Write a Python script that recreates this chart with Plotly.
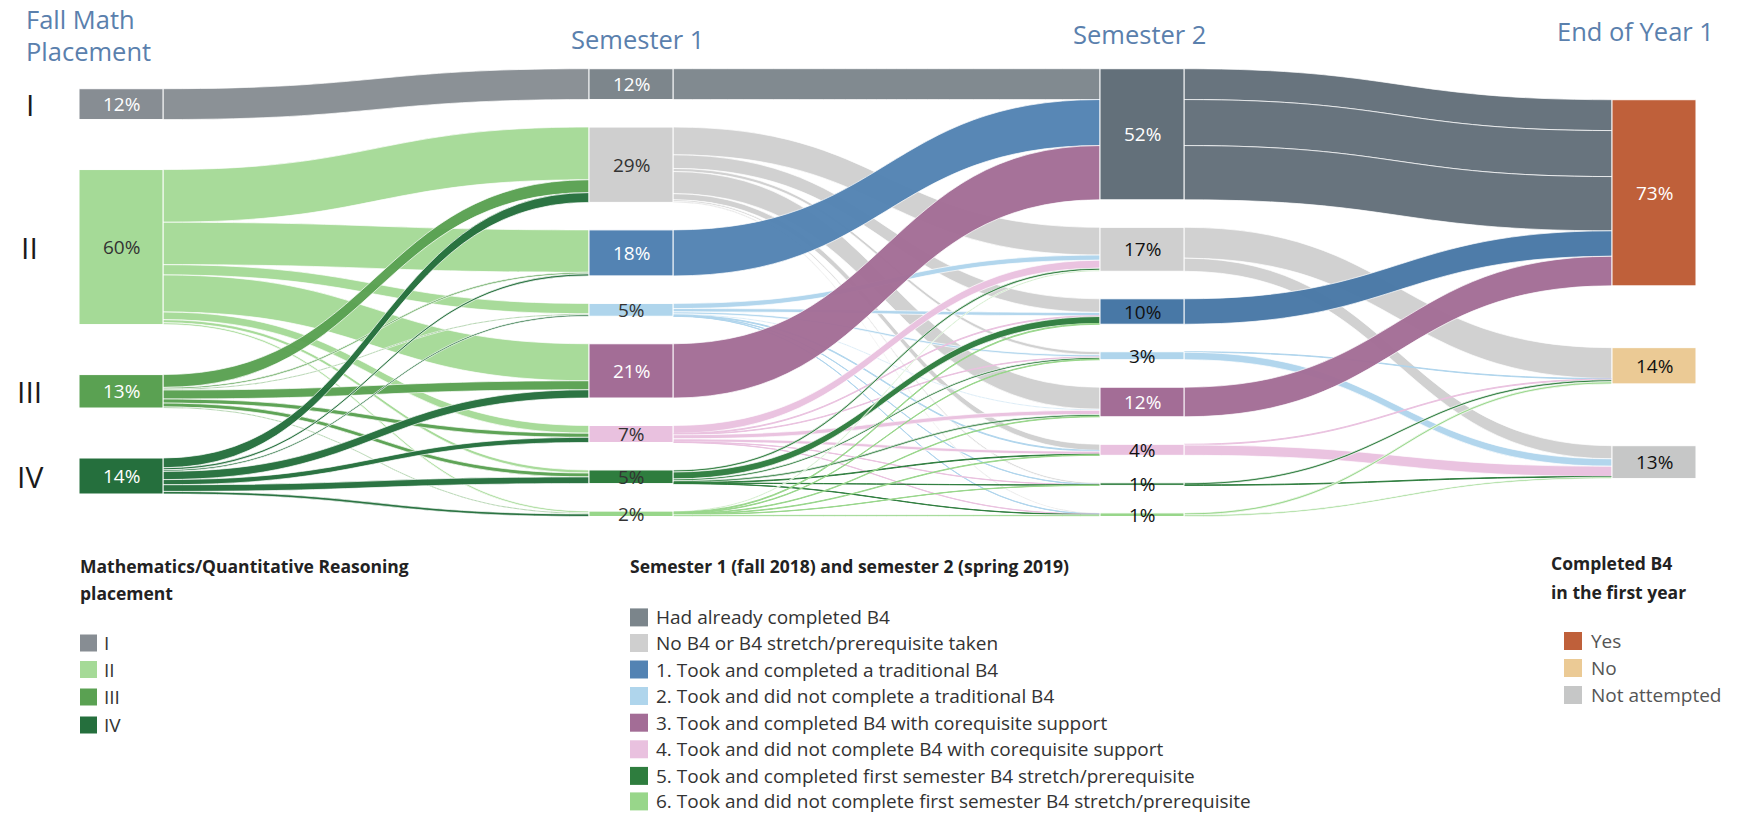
import plotly.graph_objects as go

# ---------------- data ----------------
fall_labels = ["I", "II", "III", "IV"]
fall_pct = [12, 60, 13, 14]

sem_categories = [
    "Had already completed B4",
    "No B4 or B4 stretch/prerequisite taken",
    "1. Took and completed a traditional B4",
    "2. Took and did not complete a traditional B4",
    "3. Took and completed B4 with corequisite support",
    "4. Took and did not complete B4 with corequisite support",
    "5. Took and completed first semester B4 stretch/prerequisite",
    "6. Took and did not complete first semester B4 stretch/prerequisite",
]
sem1_pct = [12, 29, 18, 5, 21, 7, 5, 2]
sem2_pct = [52, 17, 10, 3, 12, 4, 1, 1]

eoy_labels = ["Yes", "No", "Not attempted"]
eoy_pct = [73, 14, 13]

# flows (percent of students)
fall_to_sem1 = [
    [12.0, 0, 0, 0, 0, 0, 0, 0],
    [0, 20.5, 16.5, 4.0, 14.4, 3.0, 1.2, 0.7],
    [0, 5.0, 0.6, 0.4, 3.5, 1.6, 1.5, 0.4],
    [0, 3.8, 0.8, 0.6, 3.2, 2.0, 2.6, 1.0],
]
sem1_to_sem2 = [
    [12.0, 0, 0, 0, 0, 0, 0, 0],
    [0, 10.8, 5.3, 1.2, 8.6, 2.4, 0.6, 0.4],
    [17.9, 0, 0, 0, 0, 0, 0, 0],
    [0, 2.0, 1.3, 0.8, 0.4, 0.3, 0.1, 0.1],
    [21.1, 0, 0, 0, 0, 0, 0, 0],
    [0, 3.1, 0.3, 0.2, 1.6, 1.2, 0.1, 0.1],
    [0, 0.8, 2.7, 0.7, 0.7, 0.2, 0.1, 0.1],
    [0, 0.4, 0.3, 0.2, 0.2, 0.2, 0.1, 0.7],
]
# the "had already completed" students in semester 2, by semester-1 origin
sem2_completed_parts = [12.0, 17.9, 21.1]
sem2_to_eoy = [
    [None, 0, 0],          # filled from sem2_completed_parts
    [0, 12.0, 5.1],
    [9.9, 0, 0],
    [0, 0.2, 2.9],
    [11.5, 0, 0],
    [0, 0.3, 4.0],
    [0, 0.8, 0.2],
    [0, 0.8, 0.6],
]

# ---------------- styles ----------------
fall_colors = ["#878d93", "#a5da97", "#5aa152", "#256f3d"]
sem1_colors = ["#7d868c", "#cfcfcf", "#5383b3", "#afd5ec", "#a36d96", "#e9c1df", "#2e7d3e", "#98d68a"]
sem2_colors = ["#63707a", "#cfcfcf", "#4878a6", "#afd5ec", "#a36d96", "#e9c1df", "#2e7d3e", "#98d68a"]
eoy_colors = ["#bf603a", "#ebca95", "#c6c7c7"]
legend_sem_colors = ["#7b858b", "#cfcfcf", "#5383b3", "#afd5ec", "#a36d96", "#e9c1df", "#2e7d3e", "#98d68a"]

fall_txt = ["white", "#333333", "white", "white"]
sem1_txt = ["white", "#333333", "white", "#333333", "white", "#333333", "#333333", "#333333"]
sem2_txt = ["white", "#111111", "#111111", "#111111", "white", "#111111", "#111111", "#111111"]
eoy_txt = ["white", "#111111", "#111111"]

FIG_W, FIG_H = 1738, 817
SK_TOP, SK_BOT = 68.7, 516.5
DOM_H = SK_BOT - SK_TOP
COL_X = [121, 631, 1142, 1654]
THICK = 84
PAD = 27.5
FALL_TOP, FALL_GAP = 20, 50
EOY_TOP, EOY_GAP = 31, 61.8
FONT = "Open Sans"


def hex_rgba(h, a):
    h = h.lstrip("#")
    return "rgba(%d,%d,%d,%.2f)" % (int(h[0:2], 16), int(h[2:4], 16), int(h[4:6], 16), a)


# ---------------- build nodes / links ----------------
n_f, n_s = len(fall_labels), len(sem_categories)
off_s1 = n_f
off_s2 = n_f + n_s
off_e = n_f + 2 * n_s

src, tgt, val = [], [], []
for i, row in enumerate(fall_to_sem1):
    for j, v in enumerate(row):
        if v:
            src.append(i); tgt.append(off_s1 + j); val.append(v)
for i, row in enumerate(sem1_to_sem2):
    for j, v in enumerate(row):
        if v:
            src.append(off_s1 + i); tgt.append(off_s2 + j); val.append(v)
for i, row in enumerate(sem2_to_eoy):
    for j, v in enumerate(row):
        if v is None:
            for p in sem2_completed_parts:
                src.append(off_s2 + i); tgt.append(off_e + j); val.append(p)
        elif v:
            src.append(off_s2 + i); tgt.append(off_e + j); val.append(v)

node_colors = fall_colors + sem1_colors + sem2_colors + eoy_colors
link_colors = [hex_rgba(node_colors[s], 0.97) for s in src]
link_line_w = [0.6 if v >= 2 else 0 for v in val]

inflow = [0.0] * len(node_colors)
outflow = [0.0] * len(node_colors)
for s, t, v in zip(src, tgt, val):
    outflow[s] += v
    inflow[t] += v
node_val = [max(a, b) for a, b in zip(inflow, outflow)]

cols = [list(range(0, n_f)), list(range(off_s1, off_s1 + n_s)),
        list(range(off_s2, off_s2 + n_s)), list(range(off_e, off_e + 3))]
ky = min((DOM_H - (len(c) - 1) * PAD) / sum(node_val[k] for k in c) for c in cols)

centers = [0.0] * len(node_colors)
col_setup = [(FALL_TOP, FALL_GAP), (0, PAD), (0, PAD), (EOY_TOP, EOY_GAP)]
for c, (top, gap) in zip(cols, col_setup):
    y = top
    for k in c:
        h = node_val[k] * ky
        centers[k] = y + h / 2
        y += h + gap

node_x = []
for ci, c in enumerate(cols):
    node_x += [COL_X[ci] / FIG_W] * len(c)
node_y = [centers[k] / DOM_H for k in range(len(node_colors))]

fig = go.Figure(go.Sankey(
    arrangement="fixed",
    domain=dict(x=[0, 1], y=[1 - SK_BOT / FIG_H, 1 - SK_TOP / FIG_H]),
    node=dict(
        label=[""] * len(node_colors),
        color=node_colors,
        x=node_x, y=node_y,
        pad=PAD, thickness=THICK,
        line=dict(color="white", width=1),
        hoverinfo="none",
    ),
    link=dict(
        source=src, target=tgt, value=val,
        color=link_colors,
        line=dict(color="rgba(255,255,255,0.7)", width=link_line_w),
        hoverinfo="none",
    ),
))

ann = []


def px_x(x):
    return x / FIG_W


def px_y(y):
    return 1 - y / FIG_H


# node labels inside nodes
all_pct = fall_pct + sem1_pct + sem2_pct + eoy_pct
all_txt = fall_txt + sem1_txt + sem2_txt + eoy_txt
for ci, c in enumerate(cols):
    for k in c:
        ann.append(dict(x=px_x(COL_X[ci]), y=px_y(SK_TOP + centers[k]), xref="paper", yref="paper",
                        text="%d%%" % all_pct[k], showarrow=False,
                        font=dict(family=FONT, size=19, color=all_txt[k]),
                        xanchor="center", yanchor="middle"))

# row labels I..IV
for k, lab in enumerate(fall_labels):
    ann.append(dict(x=px_x(30), y=px_y(SK_TOP + centers[k]), xref="paper", yref="paper",
                    text=lab, showarrow=False, font=dict(family=FONT, size=30, color="#1a1a1a"),
                    xanchor="center", yanchor="middle"))

# column titles
title_col = "#5a80ad"
for txt, x, y, anchor in [("Fall Math", 24, 19, "left"), ("Placement", 24, 51, "left"),
                          ("Semester 1", 637, 39, "center"), ("Semester 2", 1139, 34, "center"),
                          ("End of Year 1", 1635, 31, "center")]:
    ann.append(dict(x=px_x(x), y=px_y(y), xref="paper", yref="paper", text=txt, showarrow=False,
                    font=dict(family=FONT, size=25.5, color=title_col), xanchor=anchor, yanchor="middle"))

shapes = []


def legend_block(title_lines, tx, ty, items, colors, sq_x, txt_x, rows, sq, color):
    for i, t in enumerate(title_lines):
        ann.append(dict(x=px_x(tx), y=px_y(ty[i]), xref="paper", yref="paper", text="<b>%s</b>" % t,
                        showarrow=False, font=dict(family=FONT, size=17.5, color="#222222"),
                        xanchor="left", yanchor="middle"))
    for lab, col, ry in zip(items, colors, rows):
        shapes.append(dict(type="rect", xref="paper", yref="paper",
                           x0=px_x(sq_x), x1=px_x(sq_x + sq), y0=px_y(ry - sq / 2), y1=px_y(ry + sq / 2),
                           fillcolor=col, line=dict(width=0)))
        ann.append(dict(x=px_x(txt_x), y=px_y(ry), xref="paper", yref="paper", text=lab,
                        showarrow=False, font=dict(family=FONT, size=19, color=color),
                        xanchor="left", yanchor="middle"))


legend_block(["Mathematics/Quantitative Reasoning", "placement"], 78, [566, 593],
             fall_labels, fall_colors, 80, 102, [643, 669.5, 697, 725], 17, "#333333")
legend_block(["Semester 1 (fall 2018) and semester 2 (spring 2019)"], 628, [566],
             sem_categories, legend_sem_colors, 630, 654,
             [617.4, 643, 669.5, 696, 722.7, 749.3, 775.9, 801.4], 18, "#333333")
legend_block(["Completed B4", "in the first year"], 1549, [563, 592],
             eoy_labels, eoy_colors, 1564, 1589, [641, 668, 695], 18, "#555555")

fig.update_layout(
    width=FIG_W, height=FIG_H,
    margin=dict(l=0, r=0, t=0, b=0),
    paper_bgcolor="white", plot_bgcolor="white",
    annotations=ann, shapes=shapes,
    font=dict(family=FONT),
)

fig.write_html("out.html", config={"displayModeBar": False},
               post_script="document.body.style.margin='0';")
